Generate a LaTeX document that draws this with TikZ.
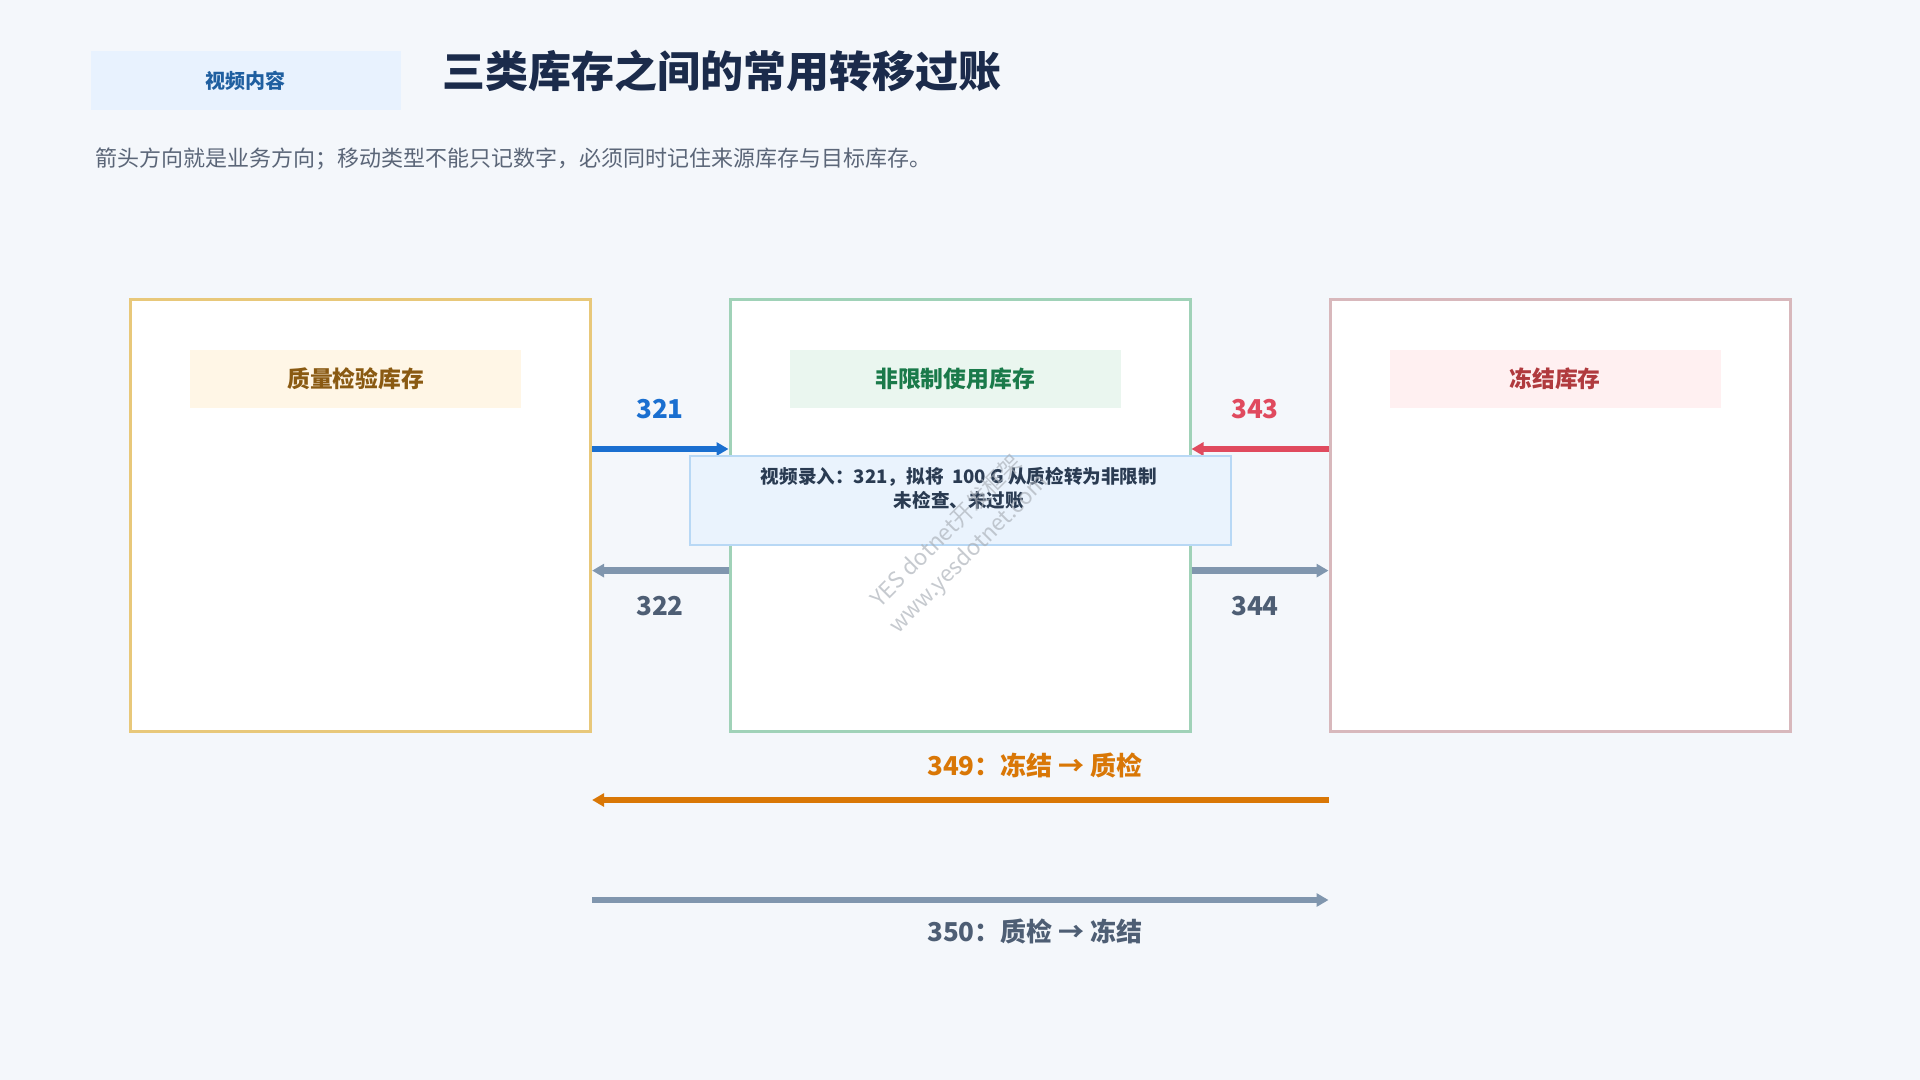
\documentclass[tikz,border=0pt]{standalone}
\usepackage{fontspec}
\setmainfont{Noto Sans CJK SC}
\usetikzlibrary{arrows.meta}
\definecolor{bg}{HTML}{F4F7FB}
\definecolor{tagF}{HTML}{E8F2FE}
\definecolor{tagT}{HTML}{1F5FA0}
\definecolor{titleC}{HTML}{1B2B4B}
\definecolor{subC}{HTML}{5B6678}
\definecolor{qaB}{HTML}{E8C87A}
\definecolor{unB}{HTML}{A0D2B8}
\definecolor{fzB}{HTML}{D8B8BC}
\definecolor{qaF}{HTML}{FFF6E6}
\definecolor{unF}{HTML}{EAF6EF}
\definecolor{fzF}{HTML}{FFF0F1}
\definecolor{qaT}{HTML}{8A5A12}
\definecolor{unT}{HTML}{1A7A4A}
\definecolor{fzT}{HTML}{B03A3E}
\definecolor{cBlue}{HTML}{1A6FD0}
\definecolor{cRed}{HTML}{E04A5E}
\definecolor{cGrey}{HTML}{8096AE}
\definecolor{cGreyT}{HTML}{4E5E74}
\definecolor{cOrange}{HTML}{D97706}
\definecolor{tipF}{HTML}{EAF3FD}
\definecolor{tipB}{HTML}{B8D8F5}
\definecolor{tipT}{HTML}{2A3B52}
\definecolor{wmC}{HTML}{A8AEB6}
\tikzset{
  store/.style={draw, line width=1.5pt, fill=white, minimum width=230pt, minimum height=215.5pt, inner sep=0pt},
  tagbox/.style={minimum width=165.5pt, minimum height=29pt, inner sep=0pt, font=\bfseries\fontsize{11.4}{14}\selectfont},
  code/.style={inner sep=0pt, font=\bfseries\fontsize{13}{16}\selectfont},
  flow/.style={line width=3.2pt, -{Triangle[length=6pt,width=6.5pt]}}
}
\begin{document}
\begin{tikzpicture}[x=0.5pt,y=-0.5pt]
\fill[bg] (0,0) rectangle (1920,1080);
\useasboundingbox (0,0) rectangle (1920,1080);

% header
\node[fill=tagF, minimum width=155pt, minimum height=29.5pt, inner sep=0pt, text=tagT, font=\bfseries\fontsize{10}{12}\selectfont] (tag) at (245.5,80.8) {视频内容};
\node[anchor=west, inner sep=0pt, text=titleC, font=\bfseries\fontsize{21.5}{26}\selectfont] (title) at (442,71) {三类库存之间的常用转移过账};
\node[anchor=west, inner sep=0pt, text=subC, font=\fontsize{11}{13}\selectfont] (sub) at (95,159) {箭头方向就是业务方向；移动类型不能只记数字，必须同时记住来源库存与目标库存。};

% stores
\node[store, draw=qaB] (qa) at (360.6,515.5) {};
\node[store, draw=unB] (un) at (960,515.5) {};
\node[store, draw=fzB] (fz) at (1560,515.5) {};
\node[tagbox, fill=qaF, text=qaT] (qal) at (355.7,379) {质量检验库存};
\node[tagbox, fill=unF, text=unT] (unl) at (955,379) {非限制使用库存};
\node[tagbox, fill=fzF, text=fzT] (fzl) at (1555,379) {冻结库存};

% rows
\coordinate (r1) at (0,449);
\coordinate (r2) at (0,570.6);
\coordinate (r3) at (0,800);
\coordinate (r4) at (0,900);

\draw[flow, cBlue] (qa.east |- r1) -- (un.west |- r1);
\draw[flow, cRed] (fz.west |- r1) -- (un.east |- r1);
\draw[flow, cGrey] (un.west |- r2) -- (qa.east |- r2);
\draw[flow, cGrey] (un.east |- r2) -- (fz.west |- r2);
\draw[flow, cOrange] (fz.west |- r3) -- (qa.east |- r3);
\draw[flow, cGrey] (qa.east |- r4) -- (fz.west |- r4);

\node[code, text=cBlue] (l321) at (660,409) {321};
\node[code, text=cRed] (l343) at (1255,409) {343};
\node[code, text=cGreyT] (l322) at (660,606) {322};
\node[code, text=cGreyT] (l344) at (1255,606) {344};
\node[code, text=cOrange] (l349) at (1035,765) {349：冻结 → 质检};
\node[code, text=cGreyT] (l350) at (1035,931) {350：质检 → 冻结};

% tooltip
\node[draw=tipB, fill=tipF, line width=1pt, minimum width=270.5pt, minimum height=44.75pt, inner sep=0pt] (tip) at (960,500.3) {};
\node[inner sep=0pt, align=center, text=tipT, font=\bfseries\fontsize{9.3}{12}\selectfont] (tipt) at (959,488.5) {视频录入：321，拟将\ \ 100 G 从质检转为非限制\\未检查、未过账};

% watermark
\node[rotate=45, align=center, text=wmC, opacity=0.65, inner sep=0pt, font=\fontsize{11.2}{15.5}\selectfont] (wm) at (958,543) {YES dotnet开发框架\\www.yesdotnet.com};
\end{tikzpicture}
\end{document}
